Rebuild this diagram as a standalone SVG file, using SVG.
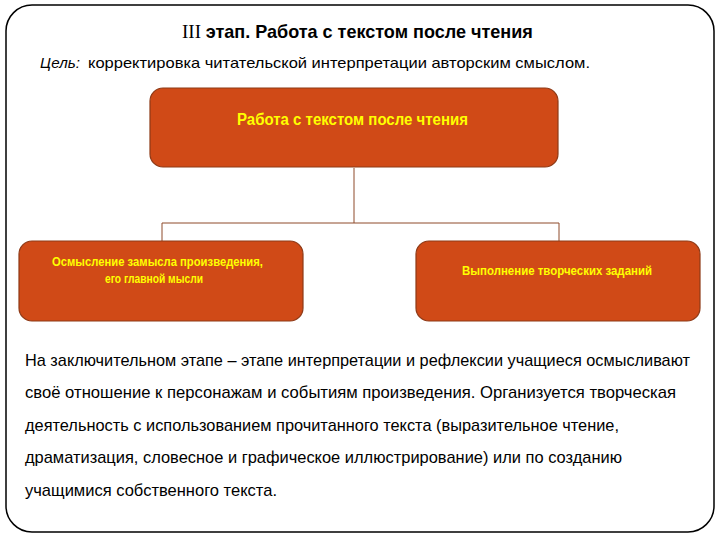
<svg xmlns="http://www.w3.org/2000/svg" width="720" height="540" viewBox="0 0 720 540">
<style>
.box{fill:#D04A17;stroke:#8E3A17;stroke-width:1.2}
.bt{font-family:"Liberation Sans","DejaVu Sans",sans-serif;font-weight:bold;fill:#FFFF00}
.conn{stroke:#8E4A2A;stroke-width:1;fill:none}
.tx{font-family:"Liberation Sans","DejaVu Sans",sans-serif;fill:#000}
</style>
<rect x="0" y="0" width="720" height="540" fill="#fff"/>
<rect id="frame" x="6" y="5" width="708" height="527" rx="26" ry="26" fill="none" stroke="#000" stroke-width="1.5"/>
<g id="title">
<text x="182" y="38" font-size="19" class="tx"><tspan font-family="Liberation Serif,serif">III </tspan><tspan font-weight="bold" textLength="327" lengthAdjust="spacingAndGlyphs">этап. Работа с текстом после чтения</tspan></text>
</g>
<g id="goal">
<text x="40" y="68" font-size="15" class="tx" font-style="italic" textLength="40" lengthAdjust="spacingAndGlyphs">Цель:</text>
<text x="88" y="68" font-size="15" class="tx" textLength="502" lengthAdjust="spacingAndGlyphs">корректировка читательской интерпретации авторским смыслом.</text>
</g>
<g id="connectors">
<path class="conn" d="M354 168 V223 M162 223 H559 M162 223 V241 M559 223 V241"/>
</g>
<g id="node-top">
<rect class="box" x="150" y="88" width="408" height="79" rx="13"/>
<text class="bt" x="237" y="125" font-size="16" textLength="231" lengthAdjust="spacingAndGlyphs">Работа с текстом после чтения</text>
</g>
<g id="node-left">
<rect class="box" x="19" y="241" width="284" height="80" rx="13"/>
<text class="bt" x="52" y="266" font-size="12.5" textLength="211" lengthAdjust="spacingAndGlyphs">Осмысление замысла произведения,</text>
<text class="bt" x="105" y="283" font-size="12.5" textLength="98" lengthAdjust="spacingAndGlyphs">его главной мысли</text>
</g>
<g id="node-right">
<rect class="box" x="416" y="241" width="284" height="80" rx="13"/>
<text class="bt" x="462" y="275" font-size="12.5" textLength="190" lengthAdjust="spacingAndGlyphs">Выполнение творческих заданий</text>
</g>
<g id="paragraph" class="tx" font-size="17">
<text x="25" y="366" textLength="665" lengthAdjust="spacingAndGlyphs">На заключительном этапе – этапе интерпретации и рефлексии учащиеся осмысливают</text>
<text x="25" y="398" textLength="651" lengthAdjust="spacingAndGlyphs">своё отношение к персонажам и событиям произведения. Организуется творческая</text>
<text x="25" y="431" textLength="594" lengthAdjust="spacingAndGlyphs">деятельность с использованием прочитанного текста (выразительное чтение,</text>
<text x="25" y="463" textLength="597" lengthAdjust="spacingAndGlyphs">драматизация, словесное и графическое иллюстрирование) или по созданию</text>
<text x="25" y="496" textLength="252" lengthAdjust="spacingAndGlyphs">учащимися собственного текста.</text>
</g>
</svg>
